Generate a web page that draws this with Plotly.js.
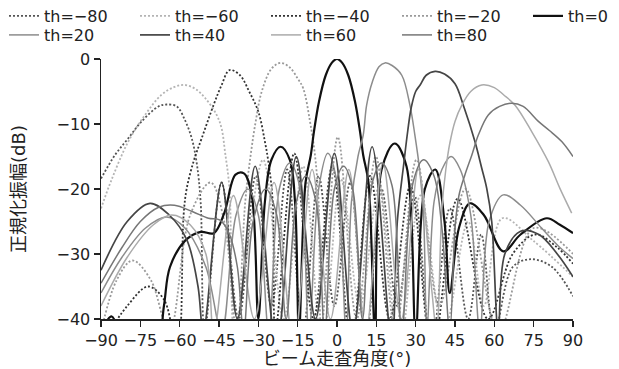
<!DOCTYPE html>
<html><head><meta charset="utf-8">
<script src="https://cdn.plot.ly/plotly-3.0.1.min.js"></script>
<style>html,body{margin:0;padding:0;background:#fff}</style>
</head><body>
<div id="chart" style="width:619px;height:369px"></div>
<script>
// Legend labels (steering setting)
const seriesNames = ['th=−80','th=−60','th=−40','th=−20','th=0','th=20','th=40','th=60','th=80'];

// th=-80
const angM80 = [-90,-84.7,-79.6,-74.5,-68.1,-65,-61.1,-58,-55.4,-53.5,-52,-50.5,-44,-37.5,-31,-25,-19,-13,-7,-1,5,11,17,23,29.5,36,43,50,55,60,67,74,82,90];
const dbM80  = [-18.4,-14.8,-12.2,-9.6,-7.3,-7.0,-7.3,-9.4,-12.2,-16,-22,-42,-19,-40,-18,-38,-17,-42,-18,-38,-19,-43,-20,-38,-21,-44,-23,-40,-27,-42,-32,-30.8,-32,-36.5];
// th=-60
const angM60 = [-90,-86,-79.6,-73.2,-66.9,-62,-58,-54,-50.3,-45.9,-44,-42.7,-41,-39,-28.2,-20.4,-12.9,-5.6,1.5,8.7,16.1,23.7,31.8,40.7,50,56,63,75,90];
const dbM60  = [-23,-18.6,-12.7,-8.6,-5.5,-4.3,-4.0,-4.6,-6,-8.6,-10.7,-14.3,-20,-42,-15.5,-40,-16.5,-44,-18.5,-38,-19.5,-45,-21,-42,-25,-38,-24.5,-28,-33.5];
// th=-40
const angM40 = [-90,-80,-72,-66,-62.5,-60.5,-58.5,-57.3,-54.5,-51.6,-47,-44,-41,-37,-33.5,-30,-27.5,-26,-24.5,-23.5,-16.3,-9,-1.8,5.4,12.6,20.1,28,36.4,46,57.6,67,75.7,84,90];
const dbM40  = [-44,-38,-35,-37,-42,-44,-24,-19.9,-15.5,-12.2,-7,-4,-1.7,-2.5,-5,-8.1,-12.7,-16.3,-22,-42,-14.5,-40,-16.5,-44,-18,-40,-19.5,-45,-21.5,-40,-30,-27,-29,-31.5];
// th=-20
const angM20 = [-90,-84,-78,-71,-64,-56,-48.2,-43,-38.3,-35,-33,-31,-28.7,-25,-21.5,-18,-15,-12.9,-10.3,-8.4,-7,-6,0.3,7.5,14.8,22.3,30.3,39,49,61.6,75,90];
const dbM20  = [-42,-34,-31,-34,-42,-24,-19,-25,-42,-22,-15,-9.6,-5,-1.5,-0.6,-1.3,-3,-4.5,-9.6,-14.8,-22,-42,-12,-40,-15,-42,-15.5,-38,-20,-42,-26,-30];
// th=0
const ang0 = [-90,-86,-83,-77,-70,-66,-63.7,-58,-52,-47,-43,-38.7,-35.5,-32.5,-30,-27.5,-25,-21.5,-18,-16,-14.5,-12,-10,-8.8,-6.9,-4.3,-2,0,2,4.3,6.9,8.8,10,12,14.5,17,22,26.5,30,33.5,37.5,41,43,46.5,50.7,56,63.4,70,80,85,90];
const db0  = [-42,-39.6,-42,-48,-48,-38,-32,-28,-26.6,-26.8,-23.7,-17.8,-17.6,-21,-40,-22,-15.5,-13.5,-15.5,-22,-42,-19,-14.8,-11.2,-6.6,-2.5,-0.6,0,-0.6,-2.5,-6.6,-11.2,-14.8,-19,-42,-17,-13,-16.5,-42,-20,-17,-25,-36,-26,-22.2,-24,-29.6,-27,-24.5,-25.5,-26.8];
// th=20
const angP20 = [-90,-82,-73,-65,-58,-50,-44,-38.5,-34,-30,-26,-22,-18,-14,-10.7,-7,-3.5,0,3.5,5.5,8,10,11.3,13.5,16,18.3,21,24.7,27.8,29.7,31.5,33,34.3,37,40,43.5,47,51,54.5,58,63.4,70,78,85,90];
const dbP20  = [-36,-30.5,-26,-24.3,-26,-32,-42,-24,-20,-24,-42,-20,-16,-20,-42,-20,-14.5,-19,-42,-22,-15,-11.7,-7.1,-3.5,-1.2,-0.6,-1,-2.5,-7.1,-11.7,-17,-24,-42,-22,-17,-15,-17,-24,-42,-25,-20.9,-22.5,-26,-29,-30.7];
// th=40
const angP40 = [-90,-80,-71.3,-64,-57.3,-53,-51,-44,-38,-31.2,-23.1,-15.5,-8.2,-1,6.1,13.4,20.9,23,25.5,27,28.3,30,31.7,34,37.4,41,45,48.5,52.6,55.2,57.1,59,61.5,64,70,77,84,90];
const dbP40  = [-32.5,-25,-22.2,-24,-27.8,-35,-42,-19,-40,-16.5,-44,-15,-40,-14.5,-42,-13.5,-44,-25,-16,-11,-7.5,-5,-4,-2.5,-1.9,-2.3,-3.8,-7.5,-12.7,-16.8,-19.9,-25,-42,-30,-26.5,-27,-30,-33.5];
// th=60
const angP60 = [-90,-80,-70,-63,-56,-50,-47,-39.5,-31.5,-24,-16.5,-9.5,-2.5,4.5,11,17.5,24.5,31,36,38,40,41.5,43,45,47.6,51,55.2,60,63.5,67.9,74.3,80.6,85,89.5];
const dbP60  = [-38,-30.5,-25.5,-24,-25.5,-30,-42,-21,-40,-19,-44,-17,-40,-17,-42,-16,-40,-17,-35,-42,-23,-17,-13,-9.6,-7.1,-5,-4,-4.4,-5.5,-7.1,-11.2,-15.8,-19.9,-23.7];
// th=80
const angP80 = [-90,-82,-75,-68,-62,-55,-49,-44.6,-41,-38,-35.6,-32,-27.2,-23,-19.4,-15.5,-11.9,-8,-4.7,-1,2.5,6,9.7,13.5,17,21,24.7,29,33,37,40,43,45,46.5,48.8,51.4,53.9,57.7,62,66.6,71,76.8,81,85.7,90];
const dbP80  = [-34.5,-29,-25,-22.8,-22.5,-23.5,-24.5,-24.8,-27,-32,-42,-25,-20,-24,-40,-22,-18,-22,-42,-20,-16.5,-20,-40,-19,-16,-19.5,-42,-19,-15.5,-18,-26,-42,-26,-21,-17.8,-14.8,-11.7,-8.6,-7.3,-6.8,-7.3,-9.6,-11,-12.7,-15];

const xTicks = [-90,-75,-60,-45,-30,-15,0,15,30,45,60,75,90];
const yTicks = [-40,-30,-20,-10,0];

const xs = [angM80, angM60, angM40, angM20, ang0, angP20, angP40, angP60, angP80];
const ys = [dbM80, dbM60, dbM40, dbM20, db0, dbP20, dbP40, dbP60, dbP80];
const colors = ['#555555','#b4b4b4','#333333','#9a9a9a','#111111','#8c8c8c','#454545','#ababab','#767676'];
const dashes = ['2px,2px','2px,2px','2px,2px','2px,2px','solid','solid','solid','solid','solid'];
const widths = [1.8,1.8,1.8,1.8,2.2,1.5,1.7,1.5,1.5];

const FONT = '"DejaVu Sans", "Noto Sans CJK JP", sans-serif';
const traces = [];
const layout = {
  width: 619, height: 369,
  margin: {l: 101, r: 46, t: 59, b: 50, autoexpand: false},
  paper_bgcolor: '#fff', plot_bgcolor: '#fff',
  font: {family: FONT, size: 16, color: '#222'},
  showlegend: true,
  xaxis: {
    range: [-90, 90], tickvals: xTicks, ticks: 'outside', ticklen: 6, tickwidth: 1.2, tickcolor: '#222',
    showline: true, linecolor: '#222', linewidth: 1.5, showgrid: false, zeroline: false,
    tickfont: {size: 16, color: '#222'},
    title: {text: 'ビーム走査角度(°)', font: {size: 18, color: '#222'}, standoff: 2}
  },
  yaxis: {
    range: [-40, 0], tickvals: yTicks, ticks: 'outside', ticklen: 6, tickwidth: 1.2, tickcolor: '#222',
    showline: true, linecolor: '#222', linewidth: 1.5, showgrid: false, zeroline: false,
    tickfont: {size: 16, color: '#222'},
    title: {text: '正規化振幅(dB)', font: {size: 18, color: '#222'}, standoff: 26}
  }
};
for (let i = 0; i < 9; i++) {
  const lg = i === 0 ? 'legend' : 'legend' + (i + 1);
  traces.push({
    x: xs[i], y: ys[i], name: seriesNames[i], type: 'scatter', mode: 'lines',
    line: {color: colors[i], width: widths[i], dash: dashes[i], shape: 'spline', smoothing: 1},
    legend: lg, hoverinfo: 'skip'
  });
  const col = i < 5 ? i : i - 5;
  const row = i < 5 ? 0 : 1;
  layout[lg] = {
    x: (4 + 131 * col) / 619, y: 1 - (row === 0 ? 16 : 35) / 369,
    xref: 'container', yref: 'container', xanchor: 'left', yanchor: 'middle',
    bgcolor: 'rgba(0,0,0,0)', borderwidth: 0, orientation: 'h',
    font: {family: FONT, size: 16, color: '#222'}, itemclick: false, itemdoubleclick: false
  };
}
Plotly.newPlot('chart', traces, layout, {staticPlot: true, displayModeBar: false});
</script></body></html>
